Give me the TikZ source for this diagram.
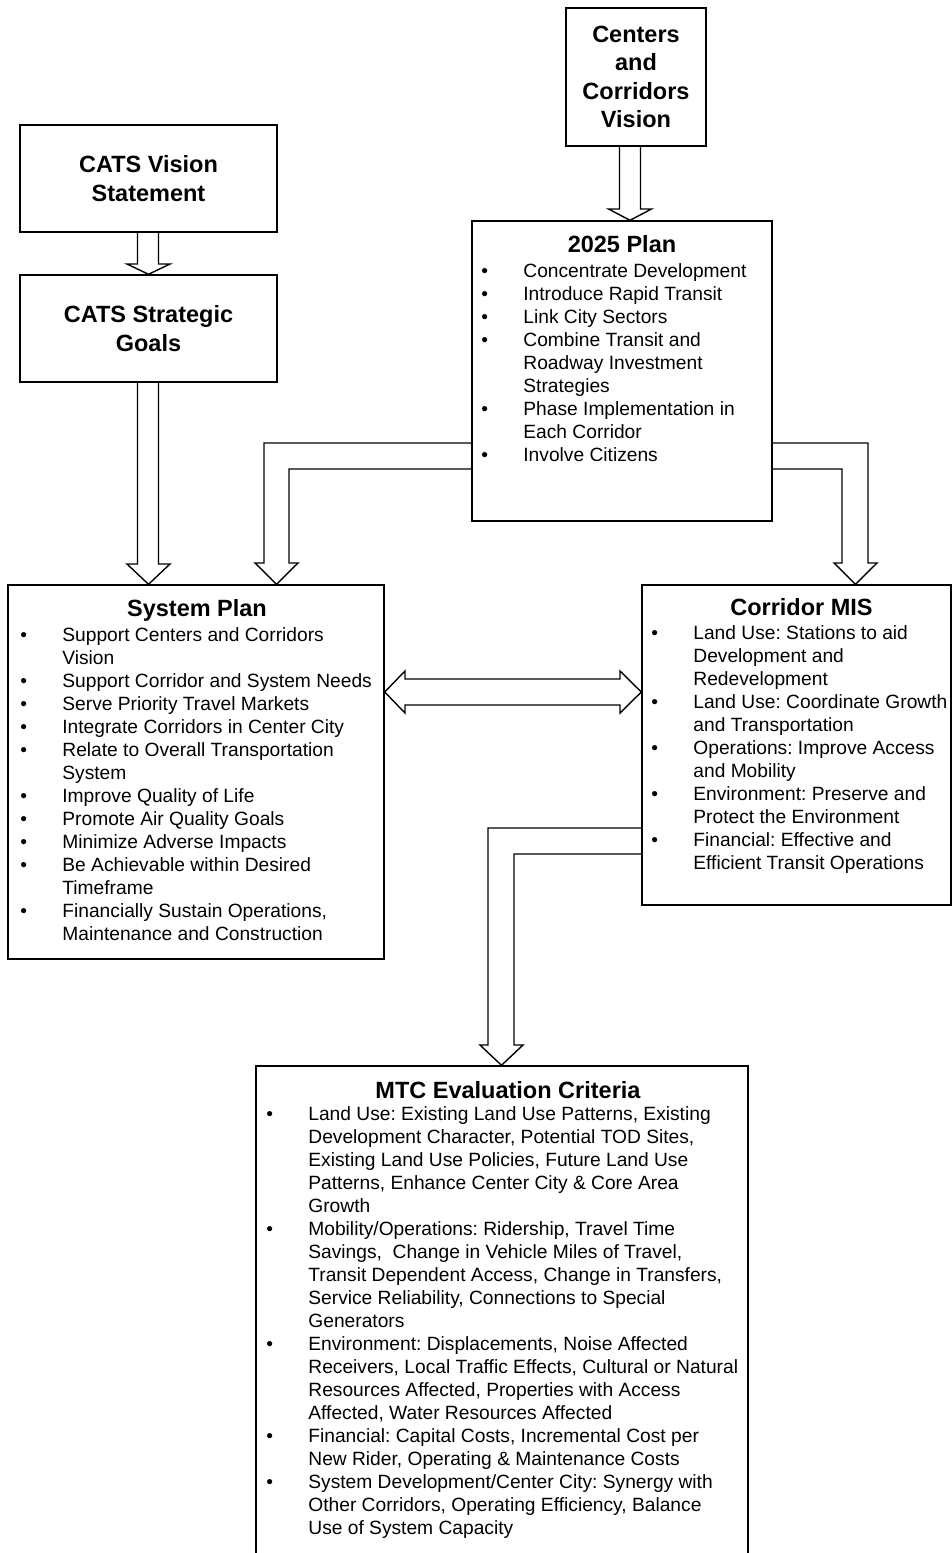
\documentclass[tikz,border=0pt]{standalone}
\usepackage{fontspec}
\setmainfont{Liberation Sans}
\usetikzlibrary{calc,positioning}
\frenchspacing
\newcommand{\bulitem}{\makebox[21pt][l]{\textbullet}}
\newcommand{\bulcont}{\hspace*{21pt}}
\tikzset{
  box/.style={draw, line width=0.7pt, inner sep=0pt},
  boxtitle/.style={font=\fontsize{11.75}{14.25}\selectfont\bfseries, align=center, inner sep=0pt},
  bullets/.style={anchor=base west, inner sep=0pt, font=\fontsize{9.6}{11.5}\selectfont},
  blockarrow/.style={draw, line width=0.7pt, line join=miter},
}
\begin{document}
\begin{tikzpicture}[x=0.5pt,y=-0.5pt]
\clip (0,0) rectangle (952,1553);
% title boxes
\node[box, boxtitle, minimum width=128.5pt, minimum height=53.5pt] (vision) at (148.5,178.5) {CATS Vision\\Statement};
\node[box, boxtitle, minimum width=128.5pt, minimum height=53.5pt] (goals) at (148.5,328.5) {CATS Strategic\\Goals};
\node[box, boxtitle, minimum width=70pt, minimum height=69pt] (centers) at (636,77) {Centers\\and\\Corridors\\Vision};
% 2025 plan
\node[box, minimum width=150pt, minimum height=150pt] (plan) at (622,371) {};
\node[boxtitle, anchor=base] (plantitle) at (622,252) {2025 Plan};
\node[bullets] (planlist) at (481,277.5) {\begin{tabular}[t]{@{}l@{}}
\bulitem Concentrate Development\\
\bulitem Introduce Rapid Transit\\
\bulitem Link City Sectors\\
\bulitem Combine Transit and\\
\bulcont Roadway Investment\\
\bulcont Strategies\\
\bulitem Phase Implementation in\\
\bulcont Each Corridor\\
\bulitem Involve Citizens
\end{tabular}};
% system plan
\node[box, minimum width=188pt, minimum height=187pt] (sysplan) at (196,772) {};
\node[boxtitle, anchor=base] (systitle) at (197,616) {System Plan};
\node[bullets] (syslist) at (20,641.5) {\begin{tabular}[t]{@{}l@{}}
\bulitem Support Centers and Corridors\\
\bulcont Vision\\
\bulitem Support Corridor and System Needs\\
\bulitem Serve Priority Travel Markets\\
\bulitem Integrate Corridors in Center City\\
\bulitem Relate to Overall Transportation\\
\bulcont System\\
\bulitem Improve Quality of Life\\
\bulitem Promote Air Quality Goals\\
\bulitem Minimize Adverse Impacts\\
\bulitem Be Achievable within Desired\\
\bulcont Timeframe\\
\bulitem Financially Sustain Operations,\\
\bulcont Maintenance and Construction
\end{tabular}};
% corridor MIS
\node[box, minimum width=154.5pt, minimum height=160pt] (mis) at (796.5,745) {};
\node[boxtitle, anchor=base] (mistitle) at (801.5,615) {Corridor MIS};
\node[bullets] (mislist) at (651,639.5) {\begin{tabular}[t]{@{}l@{}}
\bulitem Land Use: Stations to aid\\
\bulcont Development and\\
\bulcont Redevelopment\\
\bulitem Land Use: Coordinate Growth\\
\bulcont and Transportation\\
\bulitem Operations: Improve Access\\
\bulcont and Mobility\\
\bulitem Environment: Preserve and\\
\bulcont Protect the Environment\\
\bulitem Financial: Effective and\\
\bulcont Efficient Transit Operations
\end{tabular}};
% MTC evaluation criteria
\node[box, minimum width=246pt, minimum height=257pt] (mtc) at (502,1323) {};
\node[boxtitle, anchor=base] (mtctitle) at (508,1098) {MTC Evaluation Criteria};
\node[bullets] (mtclist) at (266,1120) {\begin{tabular}[t]{@{}l@{}}
\bulitem Land Use: Existing Land Use Patterns, Existing\\
\bulcont Development Character, Potential TOD Sites,\\
\bulcont Existing Land Use Policies, Future Land Use\\
\bulcont Patterns, Enhance Center City \& Core Area\\
\bulcont Growth\\
\bulitem Mobility/Operations: Ridership, Travel Time\\
\bulcont Savings,\ \ Change in Vehicle Miles of Travel,\\
\bulcont Transit Dependent Access, Change in Transfers,\\
\bulcont Service Reliability, Connections to Special\\
\bulcont Generators\\
\bulitem Environment: Displacements, Noise Affected\\
\bulcont Receivers, Local Traffic Effects, Cultural or Natural\\
\bulcont Resources Affected, Properties with Access\\
\bulcont Affected, Water Resources Affected\\
\bulitem Financial: Capital Costs, Incremental Cost per\\
\bulcont New Rider, Operating \& Maintenance Costs\\
\bulitem System Development/Center City: Synergy with\\
\bulcont Other Corridors, Operating Efficiency, Balance\\
\bulcont Use of System Capacity
\end{tabular}};
% block arrows
\draw[blockarrow] (137.5,0 |- vision.south) -- (137.5,264) -- (127,264) -- (148.5,0 |- goals.north) -- (170,264) -- (158.5,264) -- (158.5,0 |- vision.south);
\draw[blockarrow] (619.5,0 |- centers.south) -- (619.5,209) -- (608.5,209) -- (630,0 |- plan.north) -- (651.5,209) -- (640.5,209) -- (640.5,0 |- centers.south);
\draw[blockarrow] (137.5,0 |- goals.south) -- (137.5,564) -- (127,564) -- (148.5,0 |- sysplan.north) -- (170,564) -- (158.5,564) -- (158.5,0 |- goals.south);
\draw[blockarrow] (plan.west |- 0,443) -- (264,443) -- (264,563) -- (255,563) -- (276.5,0 |- sysplan.north) -- (298,563) -- (289,563) -- (289,469) -- (plan.west |- 0,469);
\draw[blockarrow] (plan.east |- 0,443) -- (868,443) -- (868,563) -- (877,563) -- (855.5,0 |- mis.north) -- (834,563) -- (842,563) -- (842,469) -- (plan.east |- 0,469);
\draw[blockarrow] (sysplan.east |- 0,692) -- (405,671) -- (405,679) -- (620,679) -- (620,671) -- (mis.west |- 0,692) -- (620,713) -- (620,705) -- (405,705) -- (405,713) -- cycle;
\draw[blockarrow] (mis.west |- 0,828) -- (488,828) -- (488,1045) -- (480,1045) -- (501.5,0 |- mtc.north) -- (523,1045) -- (514,1045) -- (514,854) -- (mis.west |- 0,854);
\end{tikzpicture}
\end{document}
